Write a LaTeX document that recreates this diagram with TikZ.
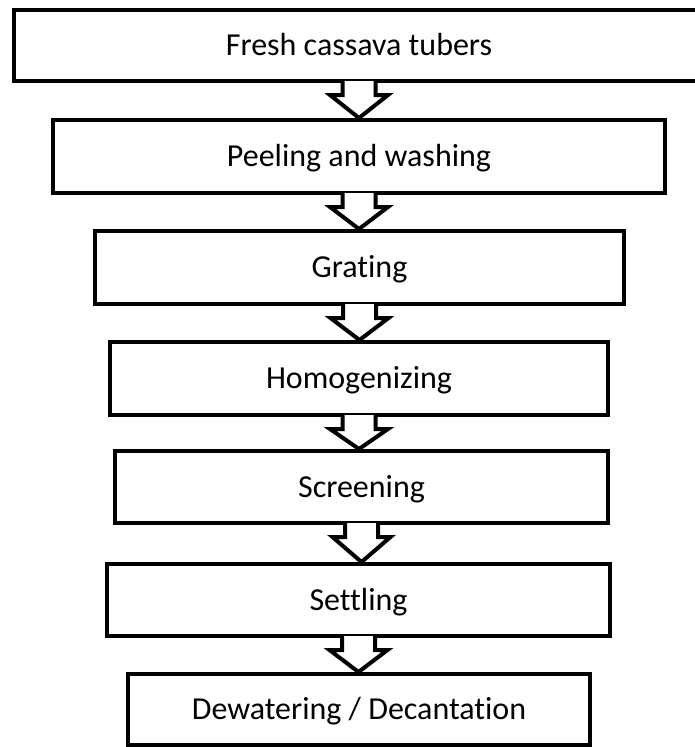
\documentclass[tikz,border=0pt]{standalone}
\usepackage{fontspec}
\setmainfont[Ligatures=NoCommon]{Carlito}
\usetikzlibrary{calc}
\tikzset{
  stepbox/.style={draw=black, line width=3pt, fill=white, rectangle, inner sep=0pt,
    font=\fontsize{24}{28}\selectfont, text height=15.2pt, text depth=0pt},
  blockarrow/.style={draw=black, line width=3pt, fill=white, line join=miter, miter limit=10}
}
\newcommand{\flowarrow}[2]{%
  \path (#1.south) coordinate (s) (#1.south |- #2.north) coordinate (t);
  \filldraw[blockarrow] ($(s)+(-16.5,-2)$) -- ($(s)+(-16.5,12)$) -- ($(s)+(-29,12)$)
    -- (t) -- ($(s)+(29,12)$) -- ($(s)+(16.5,12)$) -- ($(s)+(16.5,-2)$);
}
\begin{document}
\begin{tikzpicture}[x=0.75pt,y=-0.75pt]
\useasboundingbox (0,0) rectangle (695,747);
\begin{scope}
\clip (0,0) rectangle (695,747);
\node[stepbox, minimum width=517.5pt, minimum height=53.25pt] (b1) at (359,45.5) {Fresh cassava tubers};
\node[stepbox, minimum width=459pt, minimum height=54.75pt] (b2) at (359,156.5) {Peeling and washing};
\node[stepbox, minimum width=396.75pt, minimum height=54.75pt] (b3) at (359.5,267.5) {Grating};
\node[stepbox, minimum width=373.5pt, minimum height=54.75pt] (b4) at (359,378.5) {Homogenizing};
\node[stepbox, minimum width=369.75pt, minimum height=54pt] (b5) at (361.5,487) {Screening};
\node[stepbox, minimum width=377.25pt, minimum height=54pt] (b6) at (358.5,600) {Settling};
\node[stepbox, minimum width=346.5pt, minimum height=53.25pt] (b7) at (359,709.5) {Dewatering / Decantation};
\flowarrow{b1}{b2}
\flowarrow{b2}{b3}
\flowarrow{b3}{b4}
\flowarrow{b4}{b5}
\flowarrow{b5}{b6}
\flowarrow{b6}{b7}
\end{scope}
\end{tikzpicture}
\end{document}
